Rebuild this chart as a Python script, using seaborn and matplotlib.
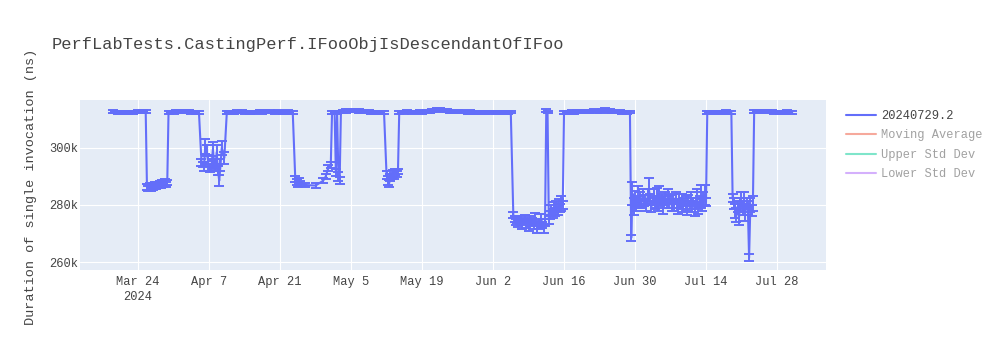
import matplotlib
matplotlib.use("Agg")
import matplotlib.pyplot as plt
from matplotlib.lines import Line2D
import seaborn as sns
import pandas as pd
import numpy as np

title = "PerfLabTests.CastingPerf.IFooObjIsDescendantOfIFoo"
y_title = "Duration of single invocation (ns)"
series_names = ["20240729.2", "Moving Average", "Upper Std Dev", "Lower Std Dev"]
series_colors = ["#636efa", "#EF553B", "#00CC96", "#AB63FA"]
x_tick_dates = ["2024-03-24", "2024-04-07", "2024-04-21", "2024-05-05", "2024-05-19",
                "2024-06-02", "2024-06-16", "2024-06-30", "2024-07-14", "2024-07-28"]
x_tick_labels = ["Mar 24\n2024", "Apr 7", "Apr 21", "May 5", "May 19",
                 "Jun 2", "Jun 16", "Jun 30", "Jul 14", "Jul 28"]
y_tick_values = [260000, 280000, 300000]
y_tick_labels = ["260k", "280k", "300k"]

# run timestamps
dates = [
    # Mar 19 - Mar 25 (high)
    "2024-03-19 00", "2024-03-19 12", "2024-03-20 00", "2024-03-20 12", "2024-03-21 00", "2024-03-21 12",
    "2024-03-22 00", "2024-03-22 12", "2024-03-23 00", "2024-03-23 12", "2024-03-24 00", "2024-03-24 12",
    "2024-03-25 00", "2024-03-25 12",
    # Mar 25 - Mar 29 (low)
    "2024-03-25 18", "2024-03-26 00", "2024-03-26 06", "2024-03-26 12", "2024-03-26 18", "2024-03-27 00",
    "2024-03-27 06", "2024-03-27 12", "2024-03-27 18", "2024-03-28 00", "2024-03-28 06", "2024-03-28 12",
    "2024-03-28 18", "2024-03-29 00", "2024-03-29 06", "2024-03-29 12", "2024-03-29 18",
    # Mar 30 - Apr 5 (high)
    "2024-03-30 00", "2024-03-30 12", "2024-03-31 00", "2024-03-31 12", "2024-04-01 00", "2024-04-01 12",
    "2024-04-02 00", "2024-04-02 12", "2024-04-03 00", "2024-04-03 12", "2024-04-04 00", "2024-04-04 12",
    "2024-04-05 00",
    # Apr 5 - Apr 10 (mid)
    "2024-04-05 12", "2024-04-05 18", "2024-04-06 00", "2024-04-06 06", "2024-04-06 12", "2024-04-06 18",
    "2024-04-07 00", "2024-04-07 06", "2024-04-07 12", "2024-04-07 18", "2024-04-08 00", "2024-04-08 06",
    "2024-04-08 12", "2024-04-08 18", "2024-04-09 00", "2024-04-09 06", "2024-04-09 12", "2024-04-10 00",
    # Apr 10 - Apr 23 (high)
    "2024-04-10 12", "2024-04-11 00", "2024-04-11 12", "2024-04-12 00", "2024-04-12 12", "2024-04-13 00",
    "2024-04-13 12", "2024-04-14 00", "2024-04-14 12", "2024-04-15 00", "2024-04-15 12", "2024-04-16 00",
    "2024-04-16 12", "2024-04-17 00", "2024-04-17 12", "2024-04-18 00", "2024-04-18 12", "2024-04-19 00",
    "2024-04-19 12", "2024-04-20 00", "2024-04-20 12", "2024-04-21 00", "2024-04-21 12", "2024-04-22 00",
    "2024-04-22 12", "2024-04-23 00", "2024-04-23 12",
    # Apr 24 - May 1 (low)
    "2024-04-24 00", "2024-04-24 06", "2024-04-24 12", "2024-04-24 18", "2024-04-25 00", "2024-04-26 00",
    "2024-04-28 00", "2024-04-29 12", "2024-04-30 00", "2024-04-30 12", "2024-05-01 00",
    # May 1 - May 3 (spikes)
    "2024-05-01 06", "2024-05-01 18", "2024-05-02 00", "2024-05-02 06", "2024-05-02 12", "2024-05-02 18",
    "2024-05-03 00",
    # May 3 - May 11 (high)
    "2024-05-03 12", "2024-05-04 00", "2024-05-04 12", "2024-05-05 00", "2024-05-05 12", "2024-05-06 00",
    "2024-05-06 12", "2024-05-07 00", "2024-05-07 12", "2024-05-08 00", "2024-05-08 12", "2024-05-09 00",
    "2024-05-09 12", "2024-05-10 00", "2024-05-10 12", "2024-05-11 00", "2024-05-11 12",
    # May 12 - May 14 (low)
    "2024-05-12 00", "2024-05-12 06", "2024-05-12 12", "2024-05-12 18", "2024-05-13 00", "2024-05-13 06",
    "2024-05-13 12", "2024-05-13 18", "2024-05-14 00", "2024-05-14 06",
    # May 14 - Jun 5 (high)
    "2024-05-14 12", "2024-05-15 00", "2024-05-15 12", "2024-05-16 00", "2024-05-16 12", "2024-05-17 00",
    "2024-05-17 12", "2024-05-18 00", "2024-05-18 12", "2024-05-19 00", "2024-05-19 12", "2024-05-20 00",
    "2024-05-20 12", "2024-05-21 00", "2024-05-21 12", "2024-05-22 00", "2024-05-22 12", "2024-05-23 00",
    "2024-05-23 12", "2024-05-24 00", "2024-05-24 12", "2024-05-25 00", "2024-05-25 12", "2024-05-26 00",
    "2024-05-26 12", "2024-05-27 00", "2024-05-27 12", "2024-05-28 00", "2024-05-28 12", "2024-05-29 00",
    "2024-05-29 12", "2024-05-30 00", "2024-05-30 12", "2024-05-31 00", "2024-05-31 12", "2024-06-01 00",
    "2024-06-01 12", "2024-06-02 00", "2024-06-02 12", "2024-06-03 00", "2024-06-03 12", "2024-06-04 00",
    "2024-06-04 12", "2024-06-05 00", "2024-06-05 12",
    # Jun 6 - Jun 12 (low)
    "2024-06-06 00", "2024-06-06 06", "2024-06-06 12", "2024-06-06 18", "2024-06-07 00", "2024-06-07 06",
    "2024-06-07 12", "2024-06-07 18", "2024-06-08 00", "2024-06-08 06", "2024-06-08 12", "2024-06-08 18",
    "2024-06-09 00", "2024-06-09 06", "2024-06-09 12", "2024-06-09 18", "2024-06-10 00", "2024-06-10 06",
    "2024-06-10 12", "2024-06-10 18", "2024-06-11 00", "2024-06-11 06", "2024-06-11 12", "2024-06-11 18",
    "2024-06-12 00", "2024-06-12 06",
    # Jun 12 spike
    "2024-06-12 12", "2024-06-12 18",
    # Jun 13 - Jun 15 (low)
    "2024-06-13 00", "2024-06-13 06", "2024-06-13 12", "2024-06-13 18", "2024-06-14 00", "2024-06-14 06",
    "2024-06-14 12", "2024-06-14 18", "2024-06-15 00", "2024-06-15 06", "2024-06-15 12", "2024-06-15 18",
    # Jun 16 - Jun 29 (high)
    "2024-06-16 00", "2024-06-16 12", "2024-06-17 00", "2024-06-17 12", "2024-06-18 00", "2024-06-18 12",
    "2024-06-19 00", "2024-06-19 12", "2024-06-20 00", "2024-06-20 12", "2024-06-21 00", "2024-06-21 12",
    "2024-06-22 00", "2024-06-22 12", "2024-06-23 00", "2024-06-23 12", "2024-06-24 00", "2024-06-24 12",
    "2024-06-25 00", "2024-06-25 12", "2024-06-26 00", "2024-06-26 12", "2024-06-27 00", "2024-06-27 12",
    "2024-06-28 00", "2024-06-28 12", "2024-06-29 00",
    # Jun 29 - Jul 14 (low)
    "2024-06-29 06", "2024-06-29 12", "2024-06-29 18",
    "2024-06-30 00", "2024-06-30 06", "2024-06-30 12", "2024-06-30 18",
    "2024-07-01 00", "2024-07-01 06", "2024-07-01 12", "2024-07-01 18",
    "2024-07-02 00", "2024-07-02 06", "2024-07-02 12", "2024-07-02 18",
    "2024-07-03 00", "2024-07-03 06", "2024-07-03 12", "2024-07-03 18",
    "2024-07-04 00", "2024-07-04 06", "2024-07-04 12", "2024-07-04 18",
    "2024-07-05 00", "2024-07-05 06", "2024-07-05 12", "2024-07-05 18",
    "2024-07-06 00", "2024-07-06 06", "2024-07-06 12", "2024-07-06 18",
    "2024-07-07 00", "2024-07-07 06", "2024-07-07 12", "2024-07-07 18",
    "2024-07-08 00", "2024-07-08 06", "2024-07-08 12", "2024-07-08 18",
    "2024-07-09 00", "2024-07-09 06", "2024-07-09 12", "2024-07-09 18",
    "2024-07-10 00", "2024-07-10 06", "2024-07-10 12", "2024-07-10 18",
    "2024-07-11 00", "2024-07-11 06", "2024-07-11 12", "2024-07-11 18",
    "2024-07-12 00", "2024-07-12 06", "2024-07-12 12", "2024-07-12 18",
    "2024-07-13 00", "2024-07-13 06", "2024-07-13 12", "2024-07-13 18",
    "2024-07-14 00",
    # Jul 14 - Jul 19 (high)
    "2024-07-14 06", "2024-07-14 12", "2024-07-15 00", "2024-07-15 12", "2024-07-16 00", "2024-07-16 12",
    "2024-07-17 00", "2024-07-17 12", "2024-07-18 00", "2024-07-18 12", "2024-07-19 00",
    # Jul 19 - Jul 23 (low)
    "2024-07-19 06", "2024-07-19 12", "2024-07-19 18",
    "2024-07-20 00", "2024-07-20 06", "2024-07-20 12", "2024-07-20 18",
    "2024-07-21 00", "2024-07-21 06", "2024-07-21 12", "2024-07-21 18",
    "2024-07-22 00", "2024-07-22 06", "2024-07-22 12", "2024-07-22 18",
    "2024-07-23 00", "2024-07-23 06",
    # Jul 23 - Jul 31 (high)
    "2024-07-23 12", "2024-07-24 00", "2024-07-24 12", "2024-07-25 00", "2024-07-25 12", "2024-07-26 00",
    "2024-07-26 12", "2024-07-27 00", "2024-07-27 12", "2024-07-28 00", "2024-07-28 12", "2024-07-29 00",
    "2024-07-29 12", "2024-07-30 00", "2024-07-30 12", "2024-07-31 00",
]

# mean duration, thousands of ns
mean_k = [
    312.7, 312.6, 312.5, 312.4, 312.5, 312.3, 312.4, 312.6, 312.5, 312.7, 312.8, 312.6, 312.9, 312.7,
    286.2, 285.8, 286.5, 285.9, 286.7, 286.1, 286.9, 286.4, 287.2, 286.6, 287.3, 286.8, 287.6, 287.0,
    287.8, 287.2, 287.9,
    312.4, 312.6, 312.5, 312.8, 312.7, 312.9, 312.6, 312.8, 312.7, 312.5, 312.6, 312.4, 312.5,
    295.0, 294.2, 293.5, 300.5, 299.0, 296.0, 293.0, 292.5, 294.0, 299.5, 294.5, 293.0, 298.5, 292.0,
    288.5, 294.0, 300.0, 296.5,
    312.5, 312.6, 312.4, 312.5, 312.7, 312.6, 312.8, 312.5, 312.6, 312.4, 312.3, 312.5, 312.6, 312.7,
    312.6, 312.8, 312.7, 312.9, 312.6, 312.5, 312.7, 312.6, 312.5, 312.4, 312.6, 312.5, 312.4,
    289.0, 288.0, 287.2, 288.4, 287.5, 287.0, 286.8, 288.5, 290.0, 293.0, 294.0,
    312.4, 312.6, 291.5, 312.5, 290.0, 288.5, 312.6,
    312.8, 313.0, 313.2, 313.1, 313.3, 313.0, 312.9, 312.7, 312.8, 312.6, 312.7, 312.5, 312.4, 312.5,
    312.6, 312.4, 312.5,
    290.5, 288.5, 287.5, 289.5, 290.0, 291.0, 290.2, 291.5, 290.8, 291.8,
    312.5, 312.6, 312.5, 312.7, 312.6, 312.4, 312.5, 312.6, 312.7, 312.5, 312.6, 312.8, 312.9, 313.1,
    313.0, 313.4, 313.6, 313.3, 313.1, 313.0, 312.9, 312.8, 312.9, 312.7, 312.8, 312.6, 312.7, 312.5,
    312.6, 312.4, 312.5, 312.6, 312.4, 312.5, 312.3, 312.4, 312.5, 312.6, 312.4, 312.5, 312.3, 312.4,
    312.5, 312.4, 312.6,
    276.5, 275.0, 274.0, 274.8, 273.5, 275.2, 274.0, 272.8, 274.5, 275.5, 273.2, 274.2, 272.5, 275.0,
    273.8, 274.6, 272.8, 275.6, 273.5, 271.8, 274.0, 272.5, 275.2, 273.0, 271.5, 274.0,
    313.0, 312.6,
    275.0, 276.5, 278.0, 277.0, 279.0, 277.5, 279.5, 278.5, 280.0, 279.0, 280.5, 280.0,
    312.3, 312.5, 312.4, 312.6, 312.5, 312.7, 312.6, 312.8, 312.7, 312.6, 312.8, 312.9, 313.0, 312.8,
    312.9, 313.1, 313.5, 313.3, 312.9, 312.8, 312.7, 312.6, 312.7, 312.5, 312.6, 312.4, 312.5,
    268.5, 284.0, 279.5,
    282.5, 280.0, 283.0, 281.0,
    282.0, 280.5, 283.5, 281.5,
    282.0, 280.0, 283.0, 285.5,
    282.0, 279.5, 281.5, 283.0,
    280.5, 282.5, 280.0, 283.5,
    281.0, 282.0, 279.5, 281.5,
    282.5, 280.5, 283.0, 281.0,
    282.0, 279.5, 281.5, 280.0,
    282.5, 280.5, 279.0, 281.5,
    280.0, 282.0, 279.5, 281.0,
    280.5, 278.5, 281.5, 280.0,
    282.0, 279.5, 281.0, 278.5,
    280.5, 282.5, 279.0, 281.0,
    283.0, 280.0, 282.0, 283.5,
    281.0,
    312.4, 312.5, 312.6, 312.4, 312.5, 312.6, 312.5, 312.4, 312.6, 312.5, 312.4,
    282.5, 280.5, 278.0,
    276.5, 279.5, 275.5, 280.0,
    281.5, 278.5, 282.0, 277.5,
    280.5, 279.0, 261.5, 280.0,
    278.0, 280.5,
    312.8, 313.0, 312.9, 312.8, 312.7, 312.8, 312.6, 312.7, 312.5, 312.6, 312.5, 312.4, 312.5, 312.6,
    312.4, 312.5,
]

# error (std dev), thousands of ns
err_k = [
    0.5, 0.4, 0.5, 0.6, 0.5, 0.4, 0.5, 0.5, 0.6, 0.4, 0.5, 0.5, 0.4, 0.5,
    1.0, 0.8, 1.1, 0.9, 1.0, 0.8, 1.2, 0.9, 1.0, 0.8, 1.1, 0.9, 1.0, 0.8, 1.2, 0.9, 1.0,
    0.5, 0.4, 0.5, 0.6, 0.5, 0.5, 0.4, 0.5, 0.6, 0.5, 0.4, 0.5, 0.5,
    1.2, 1.0, 1.5, 2.5, 2.0, 1.5, 1.2, 1.0, 1.5, 2.5, 1.5, 1.2, 2.5, 1.5, 2.0, 2.0, 2.5, 2.0,
    0.5, 0.5, 0.4, 0.5, 0.6, 0.5, 0.4, 0.5, 0.5, 0.6, 0.5, 0.4, 0.5, 0.5, 0.6, 0.5, 0.4, 0.5,
    0.5, 0.6, 0.5, 0.4, 0.5, 0.5, 0.6, 0.5, 0.4,
    1.0, 1.0, 1.0, 0.9, 0.8, 0.6, 0.8, 0.8, 1.0, 1.0, 1.0,
    0.5, 0.5, 1.2, 0.5, 1.5, 1.2, 0.5,
    0.5, 0.6, 0.5, 0.4, 0.5, 0.5, 0.6, 0.5, 0.4, 0.5, 0.5, 0.6, 0.5, 0.4, 0.5, 0.5, 0.6,
    1.5, 1.5, 1.2, 1.2, 1.0, 1.2, 1.0, 1.0, 1.0, 0.8,
    0.5, 0.4, 0.5, 0.6, 0.5, 0.5, 0.4, 0.5, 0.6, 0.5, 0.5, 0.4, 0.5, 0.6, 0.5,
    0.5, 0.4, 0.5, 0.6, 0.5, 0.5, 0.4, 0.5, 0.6, 0.5, 0.5, 0.4, 0.5, 0.6, 0.5,
    0.5, 0.4, 0.5, 0.6, 0.5, 0.5, 0.4, 0.5, 0.6, 0.5, 0.5, 0.4, 0.5, 0.6, 0.5,
    1.2, 1.0, 1.0, 1.0, 1.2, 1.0, 1.0, 1.2, 1.0, 1.0, 1.2, 1.0, 1.5, 1.0, 1.2, 1.0,
    1.2, 1.5, 1.0, 1.5, 1.2, 1.0, 1.5, 1.2, 1.5, 1.2,
    0.5, 0.5,
    1.5, 1.5, 2.0, 1.5, 2.0, 1.5, 2.0, 2.0, 2.0, 1.5, 2.5, 1.5,
    0.5, 0.4, 0.5, 0.6, 0.5, 0.5, 0.4, 0.5, 0.6, 0.5, 0.5, 0.4, 0.5, 0.6, 0.5,
    0.5, 0.4, 0.5, 0.6, 0.5, 0.5, 0.4, 0.5, 0.6, 0.5, 0.5, 0.4,
    1.0, 4.0, 3.0,
    2.5, 2.0, 3.5, 2.0,
    2.5, 1.5, 2.0, 2.0,
    1.5, 2.0, 2.5, 4.0,
    2.0, 2.0, 1.5, 2.5,
    2.0, 3.5, 2.0, 3.0,
    1.5, 2.0, 2.5, 1.5,
    2.0, 1.5, 2.5, 2.0,
    1.5, 1.5, 2.5, 2.0,
    2.0, 1.5, 2.0, 2.5,
    1.5, 2.0, 2.0, 1.5,
    2.5, 2.0, 2.0, 1.5,
    2.5, 2.0, 1.5, 2.5,
    2.0, 3.0, 2.0, 2.0,
    4.0, 2.0, 2.5, 3.5,
    1.5,
    0.5, 0.4, 0.5, 0.6, 0.5, 0.5, 0.4, 0.5, 0.6, 0.5, 0.5,
    1.5, 2.0, 2.5,
    2.5, 2.0, 2.5, 2.5,
    3.0, 2.0, 2.5, 3.0,
    2.0, 2.5, 1.3, 2.5,
    2.0, 2.5,
    0.5, 0.4, 0.5, 0.6, 0.5, 0.5, 0.4, 0.5, 0.6, 0.5, 0.5, 0.4, 0.5, 0.6, 0.5, 0.5,
]

assert len(dates) == len(mean_k) == len(err_k), (len(dates), len(mean_k), len(err_k))

df = pd.DataFrame({
    "date": pd.to_datetime(dates, format="%Y-%m-%d %H"),
    "value": np.array(mean_k) * 1000.0,
    "err": np.array(err_k) * 1000.0,
})

sns.set_style("darkgrid", {"axes.facecolor": "#E5ECF6", "grid.color": "white",
                           "axes.edgecolor": "#E5ECF6"})
plt.rcParams["font.family"] = ["Liberation Mono", "DejaVu Sans"]

TXT = "#444444"
main_color = series_colors[0]

fig = plt.figure(figsize=(10, 3.5), dpi=100)
ax = fig.add_axes([0.080, 1 - 270 / 350, 0.746, 170 / 350])

ax.errorbar(df["date"], df["value"], yerr=df["err"], fmt="none", ecolor=main_color,
            elinewidth=1.4, capsize=3.4, capthick=1.4, zorder=2)
sns.lineplot(data=df, x="date", y="value", ax=ax, color=main_color, linewidth=1.5,
             errorbar=None, zorder=3)

ax.set_xlim(pd.Timestamp("2024-03-12 13:00"), pd.Timestamp("2024-08-06 16:00"))
ax.set_ylim(257200, 316800)
ax.set_xticks(pd.to_datetime(x_tick_dates))
ax.set_xticklabels(x_tick_labels, linespacing=1.35)
ax.set_yticks(y_tick_values)
ax.set_yticklabels(y_tick_labels)
ax.tick_params(axis="both", length=0, colors=TXT, labelsize=8.64)
ax.tick_params(axis="x", pad=4)
ax.tick_params(axis="y", pad=1.5)
ax.set_xlabel("")
ax.set_ylabel("")
ax.grid(True, color="white", linewidth=0.8)
for s in ax.spines.values():
    s.set_visible(False)

fig.text(0.052, 1 - 45 / 350, title, fontsize=12.24, color=TXT, ha="left", va="center")
fig.text(0.031, 1 - 187 / 350, y_title, fontsize=9.7, color=TXT, rotation=90,
         ha="center", va="center")

handles = [Line2D([], [], color=series_colors[0], lw=1.5)]
for c in series_colors[1:]:
    handles.append(Line2D([], [], color=c, lw=1.5, alpha=0.5))
leg = fig.legend(handles, series_names, loc="upper left",
                 bbox_to_anchor=(0.846, 1 - 110 / 350), bbox_transform=fig.transFigure,
                 frameon=False, fontsize=8.64, handlelength=2.5, handletextpad=0.45,
                 labelspacing=0.62, borderpad=0, borderaxespad=0)
for i, t in enumerate(leg.get_texts()):
    t.set_color(TXT)
    if i > 0:
        t.set_alpha(0.5)

fig.savefig("out.png", dpi=100)
